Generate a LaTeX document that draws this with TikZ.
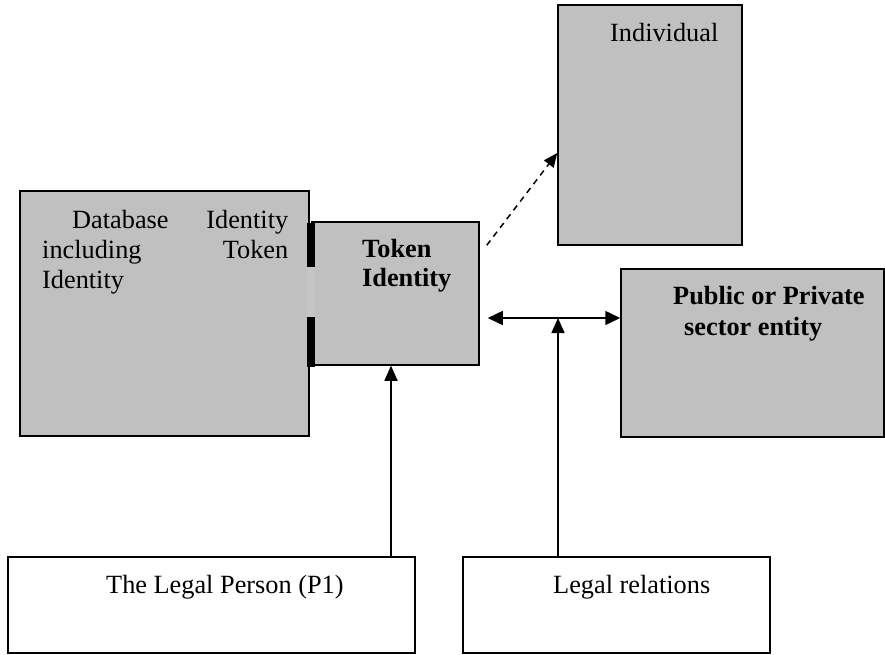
\documentclass[tikz,border=0pt]{standalone}
\usepackage{fontspec}
\setmainfont{Liberation Serif}
\usetikzlibrary{positioning,arrows.meta}
\definecolor{boxgray}{HTML}{C0C0C0}
\definecolor{gapgray}{HTML}{C5C5C5}

\begin{document}
\begin{tikzpicture}[x=1pt, y=-1pt, font=\fontsize{26.3}{30}\selectfont,
  graybox/.style={draw=black, line width=1.5pt, fill=boxgray, inner sep=0pt},
  whitebox/.style={draw=black, line width=1.5pt, fill=white, inner sep=0pt},
  bar/.style={fill=black, inner sep=0pt, minimum width=8pt},
  txt/.style={inner sep=0pt, anchor=base west, align=left},
  tip/.style={Triangle[length=15pt,width=13pt]},
  arr/.style={-{Triangle[length=15pt,width=13pt]}, line width=1.5pt},
  dblarr/.style={{Triangle[length=15pt,width=14pt]}-{Triangle[length=15pt,width=14pt]}, line width=1.5pt},
  dasharr/.style={-{Triangle[length=14pt,width=12pt]}, line width=1.5pt, dash pattern=on 6pt off 5pt}
]
\useasboundingbox (0,0) rectangle (885,654);
\node[graybox, minimum width=289pt, minimum height=245pt] (db) at (164.5,313.5) {};
\node[graybox, minimum width=167pt, minimum height=143pt] (tok) at (395.5,293.5) {};
\node[fill=gapgray, inner sep=0pt, minimum width=9pt, minimum height=50pt] (gap) at (310,292) {};
\node[bar, minimum height=44pt] (bar1) at (311,245) {};
\node[bar, minimum height=50pt] (bar2) at (311,342) {};
\node[graybox, minimum width=184pt, minimum height=240pt] (ind) at (650,125) {};
\node[graybox, minimum width=263pt, minimum height=168pt] (pub) at (752.5,353) {};
\node[whitebox, minimum width=407pt, minimum height=96pt] (lp) at (211.5,605) {};
\node[whitebox, minimum width=307pt, minimum height=96pt] (lr) at (616.5,605) {};
% texts
\node[txt, text width=246pt] (dbtxt) at (42,228) {\hspace*{30pt}Database\hfill Identity\\including\hfill Token\\Identity};
\node[txt, font=\fontsize{26.3}{29}\selectfont\bfseries] (toktxt) at (362,286) {Token\\Identity};
\node[txt] (indtxt) at (610,41) {Individual};
\node[txt, font=\fontsize{26.3}{31}\selectfont\bfseries] (pubtxt) at (673,335) {Public or Private\\\hspace*{11pt}sector entity};
\node[txt] (lptxt) at (106,593) {The Legal Person (P1)};
\node[txt] (lrtxt) at (553,593) {Legal relations};
% connectors
\coordinate (junc) at (558,318);
\coordinate (tokin) at ([xshift=-4.5pt]tok.south);
\draw[arr] (lp.north -| tokin) -- (tokin);
\draw[dblarr, shorten <=8pt] (tok.east |- junc) -- (pub.west |- junc);
\draw[arr] (lr.north -| junc) -- (junc);
\draw[dasharr] ([xshift=7pt,yshift=-24pt]tok.north east) -- ([yshift=-28pt]ind.west);
\end{tikzpicture}
\end{document}
